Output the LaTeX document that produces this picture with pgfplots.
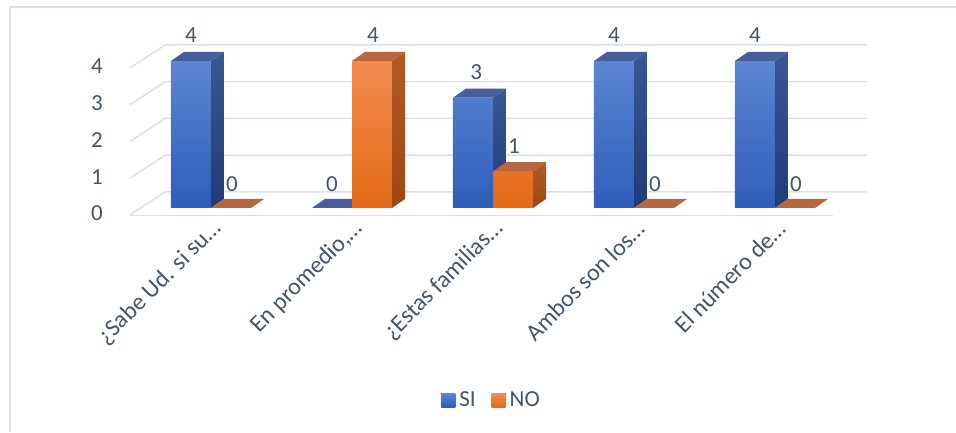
\documentclass[border=0pt]{standalone}
\usepackage{pgfplots}
\pgfplotsset{compat=1.18}
\usepackage{fontspec}
\setmainfont{Carlito}
\definecolor{txt}{HTML}{44546A}
\definecolor{gridc}{HTML}{DCDFE5}
\definecolor{siTop}{HTML}{5C86D4}
\definecolor{siBot}{HTML}{2E5DBA}
\definecolor{siSideT}{HTML}{3A5693}
\definecolor{siSideB}{HTML}{1F3B78}
\definecolor{siTopF}{HTML}{465F9C}
\definecolor{noTop}{HTML}{F28C50}
\definecolor{noBot}{HTML}{E46915}
\definecolor{noSideT}{HTML}{B35A25}
\definecolor{noSideB}{HTML}{9C4712}
\definecolor{noTopF}{HTML}{B8663C}
\begin{document}
\begin{tikzpicture}
\useasboundingbox (0,0) rectangle (956pt,432pt);
\draw[gridc, line width=1.5pt] (10pt,0) -- (10pt,425pt) -- (956pt,425pt);
\begin{axis}[
  at={(126.4pt,213pt)}, anchor=south west,
  scale only axis, width=747.3pt, height=180.1pt,
  xmin=-0.6, xmax=4.7, ymin=-0.3, ymax=4.6,
  clip=false,
  axis line style={draw=none}, major tick length=0pt,
  /pgf/number format/assume math mode=true,
  ytick={-0.15,0.85,1.85,2.85,3.85},
  yticklabels={0,1,2,3,4},
  yticklabel style={font=\fontsize{23pt}{26pt}\selectfont, text=txt, anchor=east, xshift=-20pt},
  xtick={0,1,2,3,4},
  xticklabels={{¿Sabe Ud. si su…}, {En promedio,…}, {¿Estas familias…}, {Ambos son los…}, {El número de…}},
  xticklabel style={font=\fontsize{24pt}{27pt}\selectfont, text=txt, rotate=45, anchor=east, xshift=4pt, yshift=-9pt},
  legend style={at={(0.49,-1.005)}, anchor=center, draw=none, fill=none,
    font=\fontsize{23pt}{26pt}\selectfont, text=txt,
    legend columns=2, /tikz/every even column/.append style={column sep=12pt},
    nodes={inner xsep=4pt}},
  legend image code/.code={\fill[#1] (0pt,-7pt) rectangle (14pt,7pt);},
]
% grid (back wall + side wall)
\addplot[gridc, line width=1.5pt, forget plot] coordinates {(-0.574,-0.19) (-0.326,0.435) (4.652,0.435)};
\addplot[gridc, line width=1.5pt, forget plot] coordinates {(-0.574,0.81) (-0.326,1.435) (4.652,1.435)};
\addplot[gridc, line width=1.5pt, forget plot] coordinates {(-0.574,1.81) (-0.326,2.435) (4.652,2.435)};
\addplot[gridc, line width=1.5pt, forget plot] coordinates {(-0.574,2.81) (-0.326,3.435) (4.652,3.435)};
\addplot[gridc, line width=1.5pt, forget plot] coordinates {(-0.574,3.81) (-0.326,4.435) (4.652,4.435)};
\addplot[gridc, line width=1.5pt, forget plot] coordinates {(-0.574,-0.21) (4.411,-0.21)};
% SI front faces
\addplot[ybar, bar width=0.284, bar shift=-0.142, draw=none, top color=siTop, bottom color=siBot,
  restrict y to domain=0.01:10] coordinates {(0,4) (1,0) (2,3) (3,4) (4,4)};
\addlegendentry{SI}
% SI side faces
\addplot[draw=none, top color=siSideT, bottom color=siSideB, forget plot] coordinates {(0,0) (0.092,0.245) (0.092,4.245) (0,4)} -- cycle;
\addplot[draw=none, top color=siSideT, bottom color=siSideB, forget plot] coordinates {(2,0) (2.092,0.245) (2.092,3.245) (2,3)} -- cycle;
\addplot[draw=none, top color=siSideT, bottom color=siSideB, forget plot] coordinates {(3,0) (3.092,0.245) (3.092,4.245) (3,4)} -- cycle;
\addplot[draw=none, top color=siSideT, bottom color=siSideB, forget plot] coordinates {(4,0) (4.092,0.245) (4.092,4.245) (4,4)} -- cycle;
% SI top faces
\addplot[draw=none, fill=siTopF, forget plot] coordinates {(-0.284,4) (0,4) (0.092,4.245) (-0.192,4.245)} -- cycle;
\addplot[draw=none, fill=siTopF, forget plot] coordinates {(0.716,0) (1,0) (1.092,0.245) (0.808,0.245)} -- cycle;
\addplot[draw=none, fill=siTopF, forget plot] coordinates {(1.716,3) (2,3) (2.092,3.245) (1.808,3.245)} -- cycle;
\addplot[draw=none, fill=siTopF, forget plot] coordinates {(2.716,4) (3,4) (3.092,4.245) (2.808,4.245)} -- cycle;
\addplot[draw=none, fill=siTopF, forget plot] coordinates {(3.716,4) (4,4) (4.092,4.245) (3.808,4.245)} -- cycle;
% NO front faces
\addplot[ybar, bar width=0.284, bar shift=0.142, draw=none, top color=noTop, bottom color=noBot,
  restrict y to domain=0.01:10] coordinates {(0,0) (1,4) (2,1) (3,0) (4,0)};
\addlegendentry{NO}
% NO side faces
\addplot[draw=none, top color=noSideT, bottom color=noSideB, forget plot] coordinates {(1.284,0) (1.376,0.245) (1.376,4.245) (1.284,4)} -- cycle;
\addplot[draw=none, top color=noSideT, bottom color=noSideB, forget plot] coordinates {(2.284,0) (2.376,0.245) (2.376,1.245) (2.284,1)} -- cycle;
% NO top faces
\addplot[draw=none, fill=noTopF, forget plot] coordinates {(0,0) (0.284,0) (0.376,0.245) (0.092,0.245)} -- cycle;
\addplot[draw=none, fill=noTopF, forget plot] coordinates {(1,4) (1.284,4) (1.376,4.245) (1.092,4.245)} -- cycle;
\addplot[draw=none, fill=noTopF, forget plot] coordinates {(2,1) (2.284,1) (2.376,1.245) (2.092,1.245)} -- cycle;
\addplot[draw=none, fill=noTopF, forget plot] coordinates {(3,0) (3.284,0) (3.376,0.245) (3.092,0.245)} -- cycle;
\addplot[draw=none, fill=noTopF, forget plot] coordinates {(4,0) (4.284,0) (4.376,0.245) (4.092,0.245)} -- cycle;
% data labels
\begin{scope}[every node/.style={font=\fontsize{23pt}{26pt}\selectfont, text=txt}]
\node at (axis cs:-0.142,4.7) {4};
\node at (axis cs:0.149,0.65) {0};
\node at (axis cs:0.858,0.65) {0};
\node at (axis cs:1.149,4.7) {4};
\node at (axis cs:1.88,3.7) {3};
\node at (axis cs:2.149,1.68) {1};
\node at (axis cs:2.858,4.7) {4};
\node at (axis cs:3.149,0.65) {0};
\node at (axis cs:3.858,4.7) {4};
\node at (axis cs:4.149,0.65) {0};
\end{scope}
\end{axis}
\end{tikzpicture}
\end{document}
